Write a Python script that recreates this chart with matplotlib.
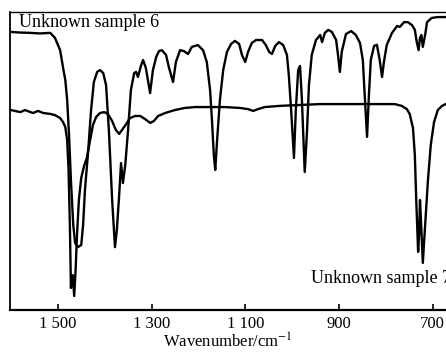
import matplotlib
matplotlib.use('Agg')
import matplotlib.pyplot as plt

plt.rcParams['font.family'] = ['Liberation Serif', 'DejaVu Serif']
plt.rcParams['mathtext.fontset'] = 'stix'

# sample 6 (upper trace), wavenumber in cm-1 and transmittance in %
wn_6 = [1600, 1580, 1559, 1538, 1516, 1506, 1495, 1489, 1484, 1480, 1476, 1472,
        1467, 1463, 1457, 1450, 1446, 1442, 1435, 1429, 1423, 1416, 1410, 1403,
        1397, 1391, 1384, 1378, 1374, 1369, 1365, 1361, 1356, 1350, 1344, 1337,
        1333, 1329, 1322, 1318, 1312, 1303, 1297, 1290, 1284, 1278, 1269, 1263,
        1254, 1248, 1239, 1231, 1222, 1214, 1201, 1190, 1182, 1175, 1171, 1167,
        1164, 1160, 1154, 1147, 1139, 1130, 1122, 1113, 1107, 1100, 1094, 1086,
        1077, 1064, 1056, 1049, 1043, 1036, 1028, 1019, 1011, 1007, 1002, 996,
        992, 987, 983, 979, 973, 968, 964, 958, 949, 940, 936, 930, 923, 915,
        906, 902, 898, 894, 885, 874, 864, 855, 849, 845, 840, 836, 832, 825,
        819, 813, 808, 804, 798, 787, 776, 770, 761, 753, 744, 738, 734, 730,
        727, 724, 721, 716, 712, 702, 689, 672]
tr_6 = [93.3, 93.1, 93.0, 92.8, 93.0, 91.3, 87.2, 81.5, 77.2, 70.5, 58.7, 43.6,
        28.5, 22.5, 21.1, 21.8, 28.5, 40.3, 53.7, 67.1, 76.5, 79.9, 80.5, 79.5,
        75.5, 60.4, 36.9, 21.1, 26.8, 38.6, 49.3, 42.6, 48.7, 60.4, 73.8, 79.5,
        79.9, 78.2, 82.2, 83.9, 81.2, 72.8, 80.5, 84.9, 86.9, 87.2, 85.6, 81.5,
        76.5, 83.2, 87.2, 86.9, 85.9, 88.3, 88.9, 87.2, 83.2, 73.8, 63.8, 52.0,
        47.0, 57.0, 70.5, 80.5, 86.6, 89.3, 90.3, 89.3, 85.6, 83.2, 86.6, 89.6,
        90.6, 90.6, 88.9, 86.6, 85.9, 88.6, 89.9, 88.9, 85.6, 78.9, 67.1, 51.0,
        67.1, 80.5, 81.9, 70.5, 46.3, 60.4, 75.5, 85.6, 90.6, 92.3, 89.9, 93.0,
        94.0, 93.3, 90.6, 85.6, 79.9, 86.6, 92.6, 93.6, 92.3, 89.6, 83.9, 72.1,
        58.1, 72.1, 83.9, 88.6, 89.0, 83.9, 78.2, 83.2, 88.9, 92.9, 95.3, 95.0,
        96.6, 96.6, 95.6, 94.0, 90.0, 87.2, 91.3, 92.3, 88.3, 92.3, 96.6, 98.0,
        98.3, 98.3]

# sample 7 (lower trace)
wn_7 = [1600, 1580, 1570, 1553, 1542, 1531, 1516, 1506, 1495, 1489, 1484, 1480,
        1477, 1474, 1472, 1468, 1465, 1462, 1459, 1455, 1450, 1444, 1438, 1431,
        1425, 1418, 1410, 1401, 1393, 1384, 1376, 1369, 1363, 1354, 1346, 1335,
        1324, 1314, 1303, 1295, 1286, 1271, 1250, 1229, 1207, 1175, 1143, 1111,
        1094, 1083, 1073, 1058, 1026, 983, 940, 876, 813, 781, 766, 755, 749,
        742, 738, 735, 731, 729, 727, 724, 721, 718, 714, 710, 704, 697, 689,
        680, 672]
tr_7 = [67.1, 66.4, 67.1, 66.1, 66.8, 66.1, 65.8, 65.4, 64.4, 63.1, 61.4, 57.0,
        47.0, 26.8, 7.4, 11.7, 4.7, 13.4, 25.2, 36.9, 44.3, 48.3, 51.0, 57.0,
        62.1, 64.8, 66.1, 66.4, 65.8, 63.4, 60.4, 59.1, 60.4, 62.4, 64.4, 65.1,
        65.1, 64.1, 62.8, 63.4, 65.1, 66.1, 67.1, 67.8, 68.1, 68.1, 68.1, 67.8,
        67.4, 66.8, 67.4, 68.1, 68.5, 68.8, 69.1, 69.1, 69.1, 69.1, 68.5, 67.4,
        65.8, 61.1, 52.0, 36.9, 19.5, 25.2, 36.9, 26.8, 15.8, 23.5, 33.6, 43.6,
        55.4, 63.1, 67.1, 68.5, 69.1]

ticks = [1500, 1300, 1100, 900, 700]
tick_labels = ['1 500', '1 300', '1 100', '900', '700']

fig = plt.figure(figsize=(4.46, 3.58), dpi=100)
ax = fig.add_axes([10 / 446, 48 / 358, 436 / 446, 298 / 358])

for wn, tr in [(wn_6, tr_6), (wn_7, tr_7)]:
    ax.plot(wn, tr, color='black', lw=1.7, solid_joinstyle='round')

ax.set_xlim(1602, 671.5)
ax.set_ylim(0, 100)

ax.set_xticks(ticks)
ax.set_xticklabels(tick_labels, fontsize=12)
ax.tick_params(axis='x', direction='in', length=4, width=1.2, pad=4)
ax.set_yticks([])
ax.set_xlabel('Wavenumber/cm$^{-1}$', fontsize=12, labelpad=1)

ax.spines['right'].set_visible(False)
ax.spines['top'].set_linewidth(1.0)
ax.spines['left'].set_linewidth(1.3)
ax.spines['bottom'].set_linewidth(1.6)

ax.text(1583, 96.6, 'Unknown sample 6', fontsize=13, va='center', ha='left')
# the reference runs this label past the right edge
ax.text(960, 10.7, 'Unknown sample 7', fontsize=13, va='center', ha='left',
        clip_on=False)

fig.savefig('out.png', dpi=100)
